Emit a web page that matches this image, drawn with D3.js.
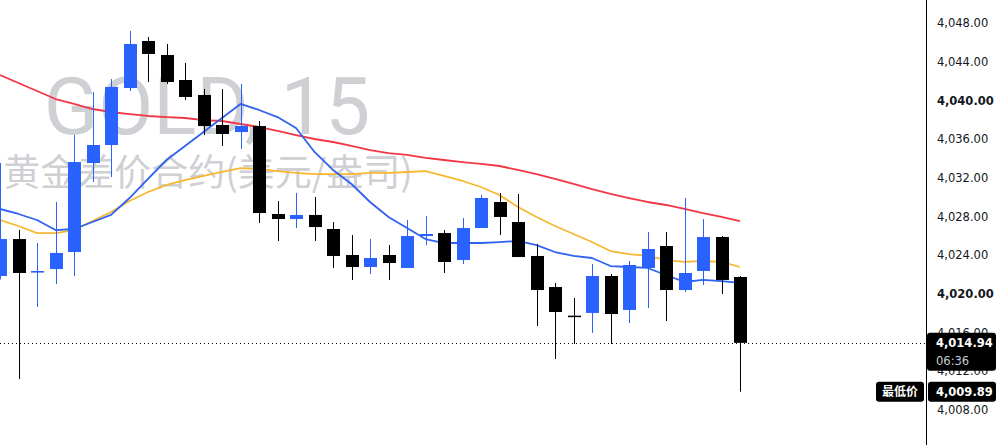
<!DOCTYPE html>
<html>
<head>
<meta charset="utf-8">
<script src="https://cdn.jsdelivr.net/npm/d3@7"></script>
<style>
  html, body { margin: 0; padding: 0; background: #fff; }
  svg { display: block; }
</style>
</head>
<body>
<svg id="chart" width="1000" height="445"></svg>
<script>
// candles, 15 min bars
var opens  = [4021.85, 4025.67, 4022.20, 4022.57, 4024.33, 4033.53, 4035.39, 4041.28, 4046.14, 4044.69,
              4042.11, 4040.56, 4037.46, 4036.73, 4037.35, 4028.26, 4027.74, 4028.16, 4026.71, 4024.02,
              4022.78, 4024.02, 4022.68, 4025.98, 4026.29, 4023.50, 4026.81, 4029.50, 4027.43, 4023.92,
              4020.71, 4017.75, 4018.03, 4021.85, 4018.34, 4022.68, 4024.95, 4020.40, 4022.37, 4025.88,
              4021.75];
var highs  = [4033.53, 4026.60, 4025.26, 4029.50, 4036.42, 4040.87, 4042.21, 4047.17, 4046.55, 4045.83,
              4043.87, 4041.18, 4041.18, 4041.70, 4037.87, 4029.60, 4030.43, 4030.02, 4027.43, 4026.09,
              4025.67, 4025.05, 4027.64, 4028.05, 4026.60, 4027.84, 4030.22, 4030.43, 4030.33, 4025.16,
              4021.13, 4019.58, 4023.09, 4022.06, 4023.40, 4026.40, 4026.40, 4029.91, 4027.74, 4025.98,
              4021.85];
var lows   = [4021.50, 4011.20, 4018.65, 4021.02, 4021.85, 4031.57, 4032.08, 4040.97, 4041.90, 4041.70,
              4040.04, 4036.42, 4035.29, 4034.98, 4027.33, 4025.47, 4026.81, 4025.47, 4022.68, 4021.44,
              4022.06, 4021.44, 4022.68, 4025.05, 4022.16, 4023.09, 4026.81, 4026.09, 4023.81, 4016.68,
              4013.27, 4014.82, 4015.96, 4014.82, 4016.99, 4018.54, 4017.20, 4020.20, 4020.92, 4019.99,
              4009.89];
var closes = [4025.67, 4022.16, 4022.37, 4024.23, 4033.63, 4035.39, 4041.39, 4045.83, 4044.80, 4041.90,
              4040.35, 4037.35, 4036.53, 4037.35, 4028.36, 4027.74, 4028.16, 4026.91, 4023.92, 4022.78,
              4023.71, 4023.19, 4025.98, 4026.19, 4023.30, 4026.81, 4029.91, 4027.95, 4023.81, 4020.40,
              4018.13, 4017.70, 4021.85, 4017.92, 4022.99, 4024.64, 4020.40, 4022.16, 4025.88, 4021.44,
              4014.94];

// moving averages as drawn
var maFast = [4028.78, 4028.26, 4027.64, 4026.60, 4026.71, 4027.43, 4028.16, 4029.91, 4031.88, 4033.84,
              4035.29, 4036.73, 4038.18, 4039.63, 4039.01, 4038.28, 4037.15, 4034.67, 4032.81, 4031.36,
              4029.50, 4027.95, 4026.81, 4025.67, 4025.26, 4025.26, 4025.26, 4025.36, 4025.47, 4025.05,
              4024.33, 4023.92, 4023.71, 4022.88, 4022.78, 4022.68, 4021.95, 4021.23, 4021.44, 4021.33,
              4021.13];
var maMid  = [4027.64, 4027.02, 4026.29, 4026.29, 4026.60, 4027.53, 4028.47, 4029.60, 4030.53, 4031.26,
              4031.77, 4032.19, 4032.60, 4033.01, 4032.91, 4032.70, 4032.50, 4032.39, 4032.39, 4032.39,
              4032.50, 4032.50, 4032.60, 4032.70, 4032.19, 4031.67, 4031.05, 4030.22, 4028.98, 4027.95,
              4027.02, 4026.19, 4025.36, 4024.43, 4024.12, 4023.92, 4023.50, 4023.30, 4023.40, 4023.30,
              4022.78];
var maSlow = [4042.63, 4041.80, 4040.97, 4040.14, 4039.63, 4039.11, 4038.80, 4038.59, 4038.39, 4038.28,
              4038.18, 4037.97, 4037.87, 4037.56, 4037.25, 4036.84, 4036.42, 4036.01, 4035.70, 4035.29,
              4034.87, 4034.56, 4034.36, 4034.05, 4033.84, 4033.63, 4033.43, 4033.22, 4032.81, 4032.39,
              4031.88, 4031.36, 4030.84, 4030.33, 4029.91, 4029.50, 4029.19, 4028.78, 4028.36, 4027.95,
              4027.53];

var priceTicks = [4008, 4012, 4016, 4020, 4024, 4028, 4032, 4036, 4040, 4044, 4048];
var boldTicks = [4020, 4040];
var lastPrice = 4014.94;
var lastTime = "06:36";
var lowPrice = 4009.89;
var lowLabel = "最低价";
var symbolText = "GOLD, 15";
var descText = "黄金差价合约(美元/盎司)";

var W = 1000, H = 445, paneW = 925;
var UP = "#2962ff", DOWN = "#000000";
var axisFont = "'DejaVu Sans', Verdana, sans-serif";

var svg = d3.select("#chart");
var x = d3.scaleLinear().domain([0, 50]).range([0, paneW]);
var y = d3.scaleLinear().domain([4008, 4048]).range([410, 23]);
var fmt = d3.format(",.2f");

var bars = opens.map(function (o, i) {
  return { i: i, o: o, h: highs[i], l: lows[i], c: closes[i] };
});

svg.append("rect").attr("width", W).attr("height", H).attr("fill", "#fff");

var pane = svg.append("g");
pane.append("clipPath").attr("id", "pane-clip")
  .append("rect").attr("width", paneW).attr("height", H);

///////////////////////////////////////////////////////////////////////////////
// watermark
var wm = pane.append("g").attr("fill", "#cfd0d4").attr("text-anchor", "middle");
wm.append("text")
  .attr("x", 207).attr("y", 134)
  .style("font-family", "Roboto, 'Liberation Sans', sans-serif")
  .style("font-size", "80px")
  .text(symbolText);
wm.append("text")
  .attr("x", 208).attr("y", 186)
  .style("font-family", "'Noto Sans CJK SC', sans-serif")
  .style("font-size", "37px")
  .text(descText);

///////////////////////////////////////////////////////////////////////////////
// moving averages
var plot = pane.append("g").attr("clip-path", "url(#pane-clip)");

var lineFor = function (vals) {
  return d3.line()
    .x(function (d, i) { return x(i); })
    .y(function (d) { return y(d); })(vals);
};

[[maSlow, "#f23645"], [maMid, "#f7b731"], [maFast, "#2f62f0"]].forEach(function (m) {
  plot.append("path")
    .attr("d", lineFor(m[0]))
    .attr("fill", "none")
    .attr("stroke", m[1])
    .attr("stroke-width", 1.8)
    .attr("stroke-linejoin", "round");
});

///////////////////////////////////////////////////////////////////////////////
// candles
var colorOf = function (d) { return d.c >= d.o ? UP : DOWN; };

var candle = plot.selectAll("g.candle").data(bars).enter().append("g").attr("class", "candle");

candle.append("line")
  .attr("x1", function (d) { return Math.round(x(d.i)) + 0.5; })
  .attr("x2", function (d) { return Math.round(x(d.i)) + 0.5; })
  .attr("y1", function (d) { return y(d.h); })
  .attr("y2", function (d) { return y(d.l); })
  .attr("stroke", colorOf)
  .attr("stroke-width", 1);

candle.append("rect")
  .attr("x", function (d) { return Math.round(x(d.i)) - 6; })
  .attr("width", 13)
  .attr("y", function (d) { return y(Math.max(d.o, d.c)); })
  .attr("height", function (d) { return Math.max(1.5, Math.abs(y(d.o) - y(d.c))); })
  .attr("fill", colorOf);

// last price line
pane.append("line")
  .attr("x1", 0).attr("x2", paneW)
  .attr("y1", Math.round(y(lastPrice)) + 0.5).attr("y2", Math.round(y(lastPrice)) + 0.5)
  .attr("stroke", "#000").attr("stroke-width", 1)
  .attr("stroke-dasharray", "1,3");

///////////////////////////////////////////////////////////////////////////////
// price axis
var axisG = svg.append("g");
axisG.append("line")
  .attr("x1", paneW + 1.5).attr("x2", paneW + 1.5)
  .attr("y1", 0).attr("y2", H)
  .attr("stroke", "#000").attr("stroke-width", 1);

axisG.selectAll("text.tick").data(priceTicks).enter().append("text")
  .attr("class", "tick")
  .attr("x", 937)
  .attr("y", function (d) { return y(d); })
  .attr("dy", "0.36em")
  .attr("fill", "#131722")
  .style("font-family", axisFont)
  .style("font-size", "11.5px")
  .style("font-weight", function (d) { return boldTicks.indexOf(d) >= 0 ? "bold" : "normal"; })
  .text(function (d) { return fmt(d); });

// last price label
var yl = y(lastPrice);
axisG.append("rect")
  .attr("x", 927).attr("y", yl - 10).attr("width", 69).attr("height", 38)
  .attr("rx", 3).attr("fill", "#000");
axisG.append("text")
  .attr("x", 936).attr("y", yl).attr("dy", "0.36em")
  .attr("fill", "#fff")
  .style("font-family", axisFont)
  .style("font-size", "11.5px").style("font-weight", "bold")
  .text(fmt(lastPrice));
axisG.append("text")
  .attr("x", 936).attr("y", yl + 18).attr("dy", "0.36em")
  .attr("fill", "#c9cbd1")
  .style("font-family", axisFont)
  .style("font-size", "11.5px")
  .text(lastTime);

// session low label
var ylo = y(lowPrice);
axisG.append("rect")
  .attr("x", 876).attr("y", ylo - 10).attr("width", 48).attr("height", 20)
  .attr("rx", 3).attr("fill", "#000");
axisG.append("text")
  .attr("x", 900).attr("y", ylo).attr("dy", "0.36em")
  .attr("text-anchor", "middle")
  .attr("fill", "#fff")
  .style("font-family", "'Noto Sans CJK SC', sans-serif")
  .style("font-size", "12px").style("font-weight", "bold")
  .text(lowLabel);
axisG.append("rect")
  .attr("x", 928).attr("y", ylo - 10).attr("width", 68).attr("height", 20)
  .attr("rx", 3).attr("fill", "#000");
axisG.append("text")
  .attr("x", 936).attr("y", ylo).attr("dy", "0.36em")
  .attr("fill", "#fff")
  .style("font-family", axisFont)
  .style("font-size", "11.5px").style("font-weight", "bold")
  .text(fmt(lowPrice));
</script>
</body>
</html>
